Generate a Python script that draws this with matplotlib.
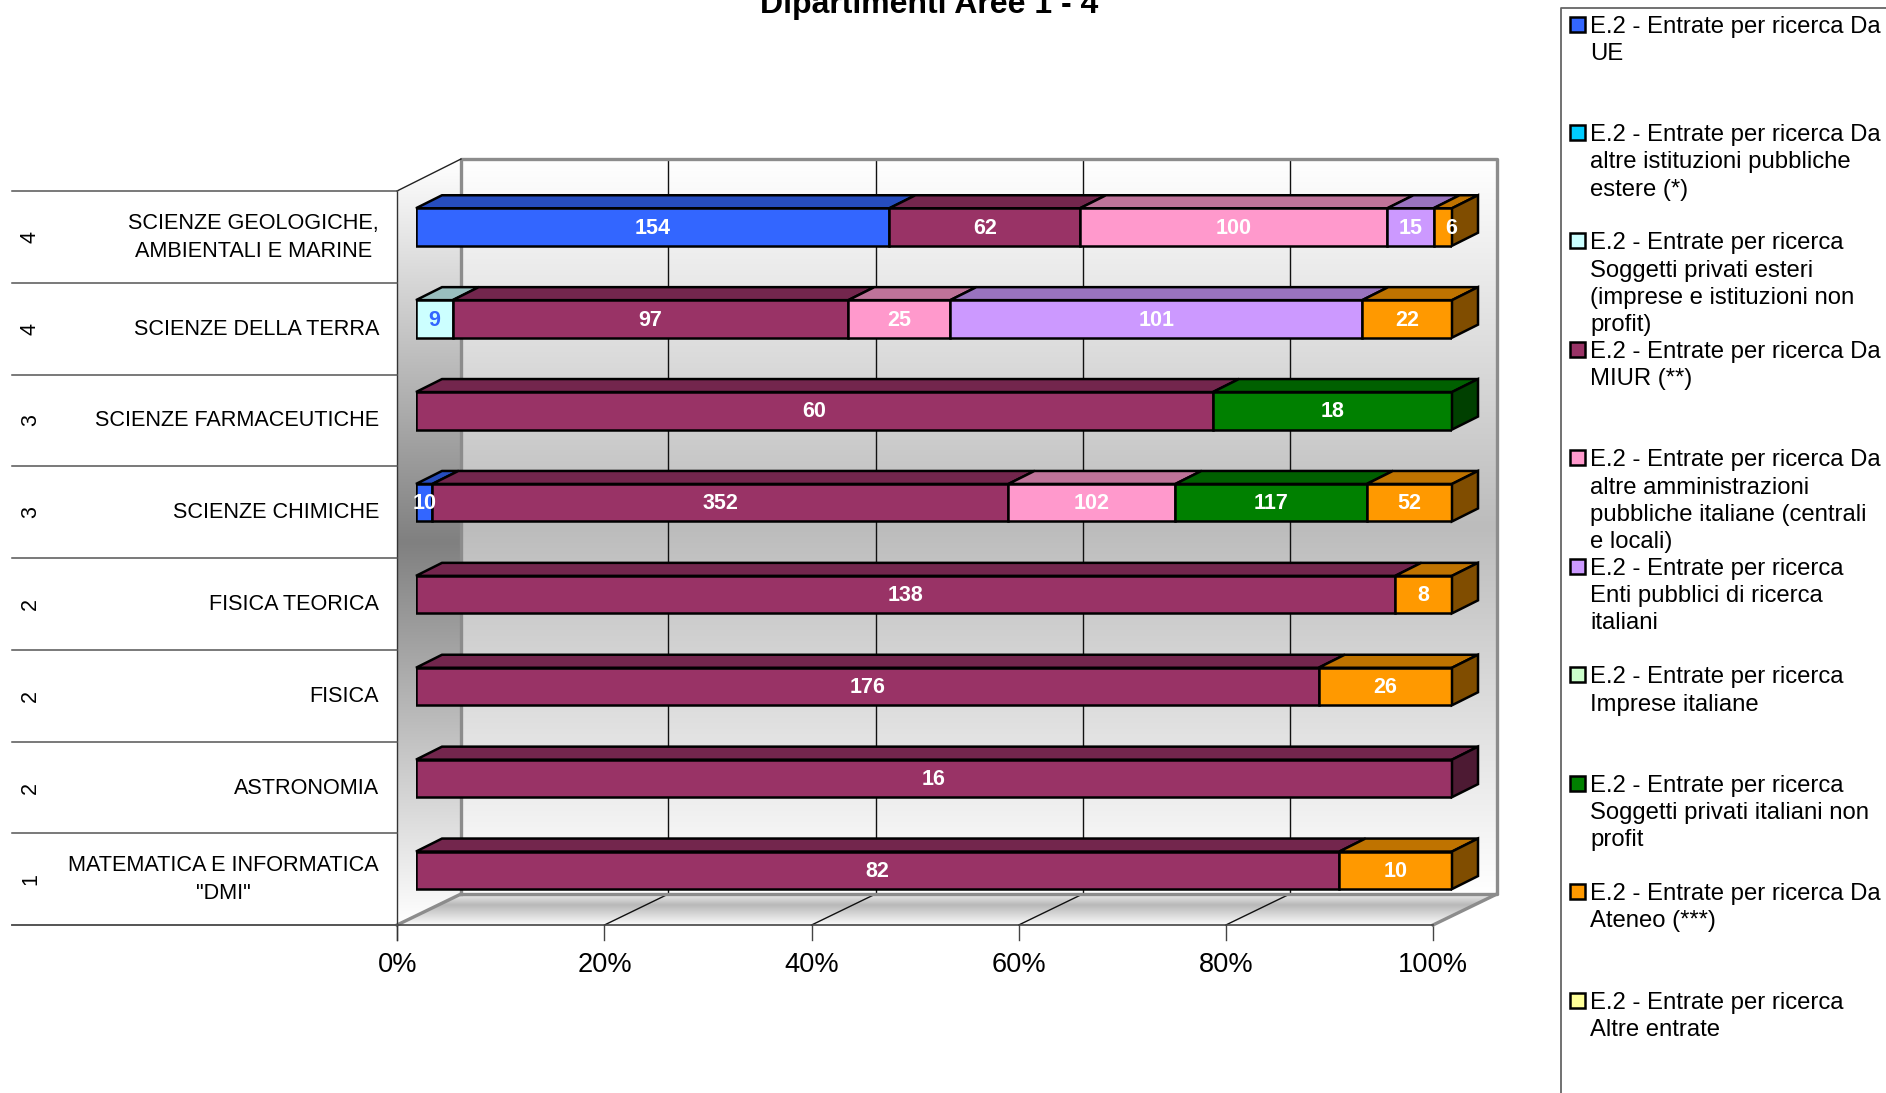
import matplotlib
matplotlib.use("Agg")
import matplotlib.pyplot as plt
import numpy as np
from matplotlib.colors import LinearSegmentedColormap, to_rgb
from matplotlib.patches import Polygon

plt.rcParams["font.family"] = ["Liberation Sans", "DejaVu Sans"]

TITLE = "Dipartimenti Aree 1 - 4"
areas = ["4", "4", "3", "3", "2", "2", "2", "1"]
departments = [
    "SCIENZE GEOLOGICHE,\nAMBIENTALI E MARINE",
    "SCIENZE DELLA TERRA",
    "SCIENZE FARMACEUTICHE",
    "SCIENZE CHIMICHE",
    "FISICA TEORICA",
    "FISICA",
    "ASTRONOMIA",
    'MATEMATICA E INFORMATICA\n"DMI"',
]

# Values per series, same order as departments
ue = [154, 0, 0, 10, 0, 0, 0, 0]
istituzioni_estere = [0, 0, 0, 0, 0, 0, 0, 0]
privati_esteri = [0, 9, 0, 0, 0, 0, 0, 0]
miur = [62, 97, 60, 352, 138, 176, 16, 82]
amministrazioni = [100, 25, 0, 102, 0, 0, 0, 0]
enti_ricerca = [15, 101, 0, 0, 0, 0, 0, 0]
imprese = [0, 0, 0, 0, 0, 0, 0, 0]
privati_italiani = [0, 0, 18, 117, 0, 0, 0, 0]
ateneo = [6, 22, 0, 52, 8, 26, 0, 10]
altre = [0, 0, 0, 0, 0, 0, 0, 0]

series = [ue, istituzioni_estere, privati_esteri, miur, amministrazioni,
          enti_ricerca, imprese, privati_italiani, ateneo, altre]
colors = ["#3366FF", "#00CCFF", "#CCFFFF", "#993366", "#FF99CC",
          "#CC99FF", "#CCFFCC", "#008000", "#FF9900", "#FFFF99"]
legend_labels = [
    "E.2 - Entrate per ricerca Da\nUE",
    "E.2 - Entrate per ricerca Da\naltre istituzioni pubbliche\nestere (*)",
    "E.2 - Entrate per ricerca\nSoggetti privati esteri\n(imprese e istituzioni non\nprofit)",
    "E.2 - Entrate per ricerca Da\nMIUR (**)",
    "E.2 - Entrate per ricerca Da\naltre amministrazioni\npubbliche italiane (centrali\ne locali)",
    "E.2 - Entrate per ricerca\nEnti pubblici di ricerca\nitaliani",
    "E.2 - Entrate per ricerca\nImprese italiane",
    "E.2 - Entrate per ricerca\nSoggetti privati italiani non\nprofit",
    "E.2 - Entrate per ricerca Da\nAteneo (***)",
    "E.2 - Entrate per ricerca\nAltre entrate",
]
x_ticks = [0, 20, 40, 60, 80, 100]

W, H = 1886, 1093
GREY = "#8c8c8c"
FRONT_X = 397.3
PX_PER_PCT = 10.357
ROW_STEP = 91.75
BAR_STEP = 91.9


def shade(color, factor):
    return tuple(c * factor for c in to_rgb(color))


def gradient(ax, stops, extent, clip=None):
    cmap = LinearSegmentedColormap.from_list("wall", stops)
    im = ax.imshow(np.linspace(0, 1, 256).reshape(-1, 1), cmap=cmap, vmin=0, vmax=1,
                   extent=extent, aspect="auto", zorder=1, interpolation="bilinear")
    if clip is not None:
        im.set_clip_path(Polygon(clip, transform=ax.transData))


fig = plt.figure(figsize=(W / 100, H / 100), dpi=100, facecolor="white")

# Background axes in pixels: walls, floor, ticks and all outside text
bg = fig.add_axes((0, 0, 1, 1))
bg.set_axis_off()

gradient(bg, [(0, "#ffffff"), (0.5, "#bcbcbc"), (1, "#ffffff")], (461, 1497, 894, 159))
gradient(bg, [(0, "#ffffff"), (0.5, "#808080"), (1, "#ffffff")], (397, 461, 925, 159),
         clip=[(397, 191), (461, 159), (461, 894), (397, 925)])
gradient(bg, [(0, "#ececec"), (0.35, "#b8b8b8"), (1, "#fbfbfb")], (397, 1497, 925, 894),
         clip=[(461, 894), (1497, 894), (1433, 925), (397, 925)])
bg.set_xlim(0, W)
bg.set_ylim(H, 0)

# Gridlines, floor diagonals and ticks
for t in x_ticks:
    fx = FRONT_X + t * PX_PER_PCT
    if 0 < t < 100:
        bg.plot([fx + 64, fx + 64], [159, 894], color="#111111", lw=1.0, zorder=2)
        bg.plot([fx + 64, fx], [894, 925], color="#111111", lw=1.0, zorder=2)
    bg.plot([fx, fx], [925, 940], color="#444444", lw=1.0, zorder=2)
    bg.text(fx, 965.5, f"{t}%", ha="center", va="center", fontsize=19.6, color="black")

# Wall outline
bg.plot([461, 461, 1497, 1497, 461], [894, 159, 159, 894, 894], color=GREY, lw=2.4, zorder=3)
bg.plot([397, 461], [925, 894], color=GREY, lw=2.4, zorder=3)
bg.plot([1433, 1497], [925, 894], color=GREY, lw=2.4, zorder=3)
bg.plot([397, 461], [191, 159], color="#222222", lw=1.0, zorder=3)
bg.plot([397, 397], [191, 940], color="#333333", lw=1.0, zorder=3)
bg.plot([12, 1433], [925, 925], color="#444444", lw=1.2, zorder=3)

# Two-level category labels
for i in range(len(departments) + 1):
    bg.plot([12, 397], [191 + i * ROW_STEP] * 2, color="#555555", lw=1.1, zorder=3)
for i, (area, name) in enumerate(zip(areas, departments)):
    y = 237 + i * ROW_STEP
    bg.text(30.5, y, area, rotation=90, ha="center", va="center", fontsize=15.5)
    bg.text(379, y + 0.5, name, ha="right", va="center", fontsize=15.6,
            multialignment="center", linespacing=1.45)

bg.text(929, 13, TITLE, ha="center", va="baseline", fontsize=23, fontweight="bold")

# Legend
bg.plot([1561, 1561, W], [H, 8, 8], color="#666666", lw=1.3, zorder=3)
for i, (label, color) in enumerate(zip(legend_labels, colors)):
    y0 = 24 + i * 108.45
    bg.add_patch(Polygon([(1569.5, y0 - 7.5), (1584.5, y0 - 7.5), (1584.5, y0 + 7.5), (1569.5, y0 + 7.5)],
                         facecolor=color, edgecolor="black", lw=1.8, zorder=3))
    for j, line in enumerate(label.split("\n")):
        bg.text(1590, y0 + 8.5 + j * 27.3, line, ha="left", va="baseline", fontsize=17.2)

# Stacked bars, 100% scale; 100% = 1036 px
ax_top = 227 - BAR_STEP / 2
ax = fig.add_axes((416 / W, 1 - (ax_top + 8 * BAR_STEP) / H, 1036 / W, 8 * BAR_STEP / H))
ax.patch.set_alpha(0)
ax.set_axis_off()
ax.set_xlim(0, 100)
ax.set_ylim(7.5, -0.5)

bar_h = 37.5 / BAR_STEP
depth_x = 26 / 10.36
depth_y = 13 / BAR_STEP
data = np.array(series, dtype=float)
totals = data.sum(axis=0)

for row in range(len(departments)):
    left = 0.0
    for s, color in enumerate(colors):
        val = data[s, row]
        if val == 0:
            continue
        width = val / totals[row] * 100
        top = row - bar_h / 2
        ax.add_patch(Polygon(
            [(left, top), (left + width, top), (left + width + depth_x, top - depth_y), (left + depth_x, top - depth_y)],
            facecolor=shade(color, 0.75), edgecolor="black", lw=1.8, joinstyle="miter", clip_on=False, zorder=4))
        ax.barh(row, width, left=left, height=bar_h, color=color, edgecolor="black", lw=1.8, zorder=5)
        if left + width >= 99.99:
            ax.add_patch(Polygon(
                [(100, top), (100 + depth_x, top - depth_y), (100 + depth_x, top + bar_h - depth_y), (100, top + bar_h)],
                facecolor=shade(color, 0.5), edgecolor="black", lw=1.8, joinstyle="miter", clip_on=False, zorder=5))
        # the "6" sits on the right edge in the original
        label_x = left + width - 0.1 if val == 6 else left + width / 2
        ax.text(label_x, row + 0.012, f"{int(val)}", ha="center", va="center", fontsize=15.5, fontweight="bold",
                color="#3366FF" if color == "#CCFFFF" else "white", zorder=6)
        left += width

fig.savefig("out.png", dpi=100)
